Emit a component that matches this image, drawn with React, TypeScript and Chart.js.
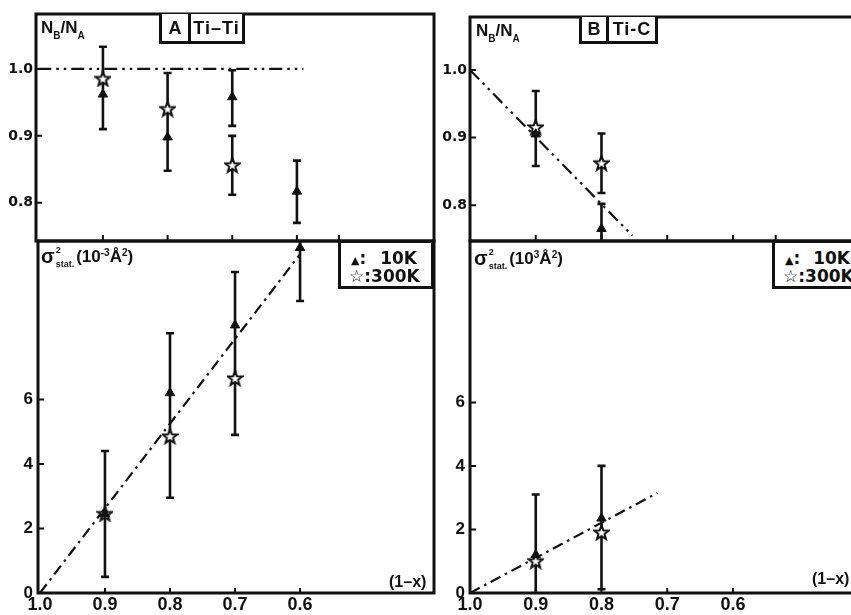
import React, { useEffect, useRef } from "react";
import { Chart, registerables } from "chart.js";

Chart.register(...registerables);

const INK = "#111111";
const FONT = "'Liberation Sans', Arial, sans-serif";
const FONT_WIDE = "'DejaVu Sans', sans-serif";

// ---- tick values ----
const X_LABEL_TICKS = [1.0, 0.9, 0.8, 0.7, 0.6];
const UPPER_X_MARKS = [0.9, 0.8, 0.7, 0.6, 0.535];
const RATIO_TICKS = [1.0, 0.9, 0.8];
const SIGMA_TICKS = [0, 2, 4, 6];

// ---- Panel A (Ti-Ti): N_B/N_A ----
const A_RATIO_X_10K = [0.9, 0.8, 0.7, 0.6];
const A_RATIO_10K = [0.962, 0.898, 0.958, 0.817];
const A_RATIO_LO_10K = [0.052, 0.05, 0.043, 0.047];
const A_RATIO_HI_10K = [0.023, 0.042, 0.04, 0.046];
const A_RATIO_X_300K = [0.9, 0.8, 0.7];
const A_RATIO_300K = [0.985, 0.94, 0.856];
const A_RATIO_LO_300K = [0, 0, 0.044];
const A_RATIO_HI_300K = [0.048, 0.054, 0.044];
const A_RATIO_FIT_X = [1.0, 0.59];
const A_RATIO_FIT = [1.0, 1.0];

// ---- Panel A (Ti-Ti): sigma^2 stat ----
const A_SIG_X_10K = [0.9, 0.8, 0.7, 0.6];
const A_SIG_10K = [2.45, 6.2, 8.3, 10.7];
const A_SIG_LO_10K = [0, 1.35, 1.65, 1.65];
const A_SIG_HI_10K = [0, 1.85, 1.65, 1.65];
const A_SIG_X_300K = [0.9, 0.8, 0.7];
const A_SIG_300K = [2.45, 4.85, 6.65];
const A_SIG_LO_300K = [1.95, 1.9, 1.75];
const A_SIG_HI_300K = [1.95, 0, 0];
const A_SIG_FIT_X = [1.0, 0.6];
const A_SIG_FIT = [0, 10.5];

// ---- Panel B (Ti-C): N_B/N_A ----
const B_RATIO_X_10K = [0.9, 0.8];
const B_RATIO_10K = [0.905, 0.765];
const B_RATIO_LO_10K = [0, 0.03];
const B_RATIO_HI_10K = [0, 0.037];
const B_RATIO_X_300K = [0.9, 0.8];
const B_RATIO_300K = [0.915, 0.862];
const B_RATIO_LO_300K = [0.057, 0.044];
const B_RATIO_HI_300K = [0.054, 0.044];
const B_RATIO_FIT_X = [1.0, 0.753];
const B_RATIO_FIT = [1.0, 0.755];

// ---- Panel B (Ti-C): sigma^2 stat ----
const B_SIG_X_10K = [0.9, 0.8];
const B_SIG_10K = [1.2, 2.35];
const B_SIG_LO_10K = [1.3, 0.45];
const B_SIG_HI_10K = [1.9, 1.65];
const B_SIG_X_300K = [0.9, 0.8];
const B_SIG_300K = [1.0, 1.9];
const B_SIG_LO_300K = [0, 1.78];
const B_SIG_HI_300K = [0, 0];
const B_SIG_FIT_X = [1.0, 0.715];
const B_SIG_FIT = [0, 3.15];

const pts = (xs: number[], ys: number[]) => xs.map((x, i) => ({ x, y: ys[i] }));

let starCache: HTMLCanvasElement | null = null;
function starImage() {
  if (starCache) return starCache;
  const c = document.createElement("canvas");
  c.width = 17;
  c.height = 17;
  const g = c.getContext("2d")!;
  const cx = 8.5, cy = 8.8, R = 7.6, r = 3.2;
  g.beginPath();
  for (let i = 0; i < 10; i++) {
    const ang = -Math.PI / 2 + (i * Math.PI) / 5;
    const rad = i % 2 === 0 ? R : r;
    const px = cx + Math.cos(ang) * rad;
    const py = cy + Math.sin(ang) * rad;
    if (i === 0) g.moveTo(px, py);
    else g.lineTo(px, py);
  }
  g.closePath();
  g.fillStyle = "#ffffff";
  g.fill();
  g.lineWidth = 2;
  g.strokeStyle = INK;
  g.stroke();
  starCache = c;
  return c;
}

function makeDatasets(
  x10: number[], y10: number[], lo10: number[], hi10: number[],
  x300: number[], y300: number[], lo300: number[], hi300: number[],
  fx: number[], fy: number[], dash: number[]
) {
  return [
    {
      type: "scatter",
      data: pts(x10, y10),
      errLo: lo10,
      errHi: hi10,
      pointStyle: "triangle",
      pointRadius: 5.4,
      backgroundColor: INK,
      borderColor: INK,
      borderWidth: 1,
      order: 0,
    },
    {
      type: "scatter",
      data: pts(x300, y300),
      errLo: lo300,
      errHi: hi300,
      pointStyle: starImage(),
      pointRadius: 8,
      order: 1,
    },
    {
      type: "line",
      data: pts(fx, fy),
      borderColor: INK,
      borderWidth: 2.2,
      borderDash: dash,
      pointRadius: 0,
      fill: false,
      showLine: true,
      order: 2,
    },
  ];
}

const framePlugin = (xTickLen: number, yTickLen: number) => ({
  id: "frameTicks",
  afterDraw(chart: any) {
    const { ctx, chartArea: a } = chart;
    const xs = chart.scales.x;
    const ys = chart.scales.y;
    ctx.save();
    ctx.strokeStyle = INK;
    ctx.lineWidth = 3;
    ctx.strokeRect(a.left, a.top, a.right - a.left, a.bottom - a.top);
    ctx.lineWidth = 2;
    ctx.beginPath();
    xs.ticks.forEach((t: any) => {
      const px = xs.getPixelForValue(t.value);
      if (px < a.left + 4 || px > a.right - 4) return;
      ctx.moveTo(px, a.bottom);
      ctx.lineTo(px, a.bottom - xTickLen);
    });
    ys.ticks.forEach((t: any) => {
      const py = ys.getPixelForValue(t.value);
      if (py < a.top + 4 || py > a.bottom - 4) return;
      ctx.moveTo(a.left, py);
      ctx.lineTo(a.left + yTickLen, py);
    });
    ctx.stroke();
    ctx.restore();
  },
});

const errorBarPlugin = {
  id: "errorBars",
  beforeDatasetsDraw(chart: any) {
    const { ctx, chartArea: a } = chart;
    const xs = chart.scales.x;
    const ys = chart.scales.y;
    ctx.save();
    ctx.beginPath();
    ctx.rect(a.left, a.top, a.right - a.left, a.bottom - a.top);
    ctx.clip();
    ctx.strokeStyle = INK;
    ctx.lineWidth = 2.6;
    chart.data.datasets.forEach((ds: any) => {
      if (!ds.errLo) return;
      ds.data.forEach((p: any, j: number) => {
        const px = xs.getPixelForValue(p.x);
        const py = ys.getPixelForValue(p.y);
        const parts = [ds.errHi[j], -ds.errLo[j]];
        parts.forEach((e: number) => {
          if (!e) return;
          const end = ys.getPixelForValue(p.y + e);
          ctx.beginPath();
          ctx.moveTo(px, py);
          ctx.lineTo(px, end);
          ctx.moveTo(px - 4, end);
          ctx.lineTo(px + 4, end);
          ctx.stroke();
        });
      });
    });
    ctx.restore();
  },
};

type Spec = {
  left: number; top: number; w: number; h: number;
  padding: any; yWidth: number; xHeight: number;
  xMin: number; xMax: number; yMin: number; yMax: number;
  xTicks: number[]; yTicks: number[]; xLabels: boolean;
  xFont: any; yFont: any; yPad: number; yDigits: number;
  datasets: any[];
};

function buildConfig(p: Spec): any {
  const zeroPad = (s: any) => {
    s.paddingLeft = 0;
    s.paddingRight = 0;
    s.paddingTop = 0;
    s.paddingBottom = 0;
  };
  return {
    type: "scatter",
    data: { datasets: p.datasets },
    options: {
      responsive: false,
      maintainAspectRatio: false,
      animation: false,
      devicePixelRatio: 1,
      layout: { padding: p.padding, autoPadding: false },
      plugins: { legend: { display: false }, tooltip: { enabled: false } },
      scales: {
        x: {
          type: "linear",
          reverse: true,
          min: p.xMin,
          max: p.xMax,
          grid: { display: false, drawTicks: false },
          border: { display: false },
          afterBuildTicks: (s: any) => {
            s.ticks = p.xTicks.map((v) => ({ value: v }));
          },
          afterFit: (s: any) => {
            s.height = p.xHeight;
            zeroPad(s);
          },
          ticks: {
            display: p.xLabels,
            autoSkip: false,
            maxRotation: 0,
            minRotation: 0,
            padding: 1,
            color: INK,
            font: p.xFont,
            callback: (v: any) => Number(v).toFixed(1),
          },
        },
        y: {
          type: "linear",
          min: p.yMin,
          max: p.yMax,
          grid: { display: false, drawTicks: false },
          border: { display: false },
          afterBuildTicks: (s: any) => {
            s.ticks = p.yTicks.map((v) => ({ value: v }));
          },
          afterFit: (s: any) => {
            s.width = p.yWidth;
            zeroPad(s);
          },
          ticks: {
            autoSkip: false,
            padding: p.yPad,
            color: INK,
            font: p.yFont,
            callback: (v: any) => Number(v).toFixed(p.yDigits),
          },
        },
      },
    },
    plugins: [framePlugin(p.xLabels ? 5 : 6, 6), errorBarPlugin],
  };
}

function Panel({ spec }: { spec: Spec }) {
  const ref = useRef<HTMLCanvasElement>(null);
  useEffect(() => {
    const chart = new Chart(ref.current as HTMLCanvasElement, buildConfig(spec));
    return () => chart.destroy();
  }, []);
  return (
    <canvas
      ref={ref}
      width={spec.w}
      height={spec.h}
      style={{ position: "absolute", left: spec.left, top: spec.top, width: spec.w, height: spec.h }}
    />
  );
}

const upperFont = { family: FONT_WIDE, weight: "bold", size: 14 };
const lowerXFont = { family: FONT, weight: "bold", size: 18 };
const lowerYFont = { family: FONT, weight: "bold", size: 17 };

const DASH_DDOT = [13, 5, 2.5, 5, 2.5, 5];
const DASH_DOT = [11, 5, 2.5, 5];

const SPECS: Spec[] = [
  {
    left: 0, top: 0, w: 436, h: 245,
    padding: { top: 14, right: 2, bottom: 4, left: 0 },
    yWidth: 36, xHeight: 0,
    xMin: 0.388, xMax: 1.0035, yMin: 0.743, yMax: 1.082,
    xTicks: UPPER_X_MARKS, yTicks: RATIO_TICKS, xLabels: false,
    xFont: upperFont, yFont: upperFont, yPad: 3, yDigits: 1,
    datasets: makeDatasets(A_RATIO_X_10K, A_RATIO_10K, A_RATIO_LO_10K, A_RATIO_HI_10K, A_RATIO_X_300K, A_RATIO_300K, A_RATIO_LO_300K, A_RATIO_HI_300K, A_RATIO_FIT_X, A_RATIO_FIT, DASH_DDOT),
  },
  {
    left: 0, top: 230, w: 436, h: 385,
    padding: { top: 11, right: 2, bottom: 0, left: 0 },
    yWidth: 38, xHeight: 22,
    xMin: 0.394, xMax: 1.003, yMin: 0, yMax: 10.91,
    xTicks: X_LABEL_TICKS, yTicks: SIGMA_TICKS, xLabels: true,
    xFont: lowerXFont, yFont: lowerYFont, yPad: 5, yDigits: 0,
    datasets: makeDatasets(A_SIG_X_10K, A_SIG_10K, A_SIG_LO_10K, A_SIG_HI_10K, A_SIG_X_300K, A_SIG_300K, A_SIG_LO_300K, A_SIG_HI_300K, A_SIG_FIT_X, A_SIG_FIT, DASH_DOT),
  },
  {
    left: 434, top: 0, w: 440, h: 245,
    padding: { top: 17, right: 0, bottom: 4, left: 0 },
    yWidth: 36, xHeight: 0,
    xMin: 0.3855, xMax: 1.0, yMin: 0.747, yMax: 1.0785,
    xTicks: UPPER_X_MARKS, yTicks: RATIO_TICKS, xLabels: false,
    xFont: upperFont, yFont: upperFont, yPad: 3, yDigits: 1,
    datasets: makeDatasets(B_RATIO_X_10K, B_RATIO_10K, B_RATIO_LO_10K, B_RATIO_HI_10K, B_RATIO_X_300K, B_RATIO_300K, B_RATIO_LO_300K, B_RATIO_HI_300K, B_RATIO_FIT_X, B_RATIO_FIT, DASH_DDOT),
  },
  {
    left: 432, top: 230, w: 442, h: 385,
    padding: { top: 11, right: 0, bottom: 0, left: 0 },
    yWidth: 38, xHeight: 22,
    xMin: 0.3855, xMax: 1.0, yMin: 0, yMax: 11.08,
    xTicks: X_LABEL_TICKS, yTicks: SIGMA_TICKS, xLabels: true,
    xFont: lowerXFont, yFont: lowerYFont, yPad: 5, yDigits: 0,
    datasets: makeDatasets(B_SIG_X_10K, B_SIG_10K, B_SIG_LO_10K, B_SIG_HI_10K, B_SIG_X_300K, B_SIG_300K, B_SIG_LO_300K, B_SIG_HI_300K, B_SIG_FIT_X, B_SIG_FIT, DASH_DOT),
  },
];

const txt: React.CSSProperties = {
  position: "absolute",
  fontFamily: FONT,
  fontWeight: 700,
  color: INK,
  whiteSpace: "nowrap",
  lineHeight: 1,
};

function RatioLabel({ left, top }: { left: number; top: number }) {
  return (
    <div style={{ ...txt, left, top, fontSize: 17 }}>
      N<span style={{ fontSize: 10, position: "relative", top: 6 }}>B</span>/N
      <span style={{ fontSize: 10, position: "relative", top: 6 }}>A</span>
    </div>
  );
}

function TitleBox({ left, top, w, cell, letter, name }: any) {
  return (
    <div
      style={{
        ...txt, left, top, width: w, height: 44 - top, boxSizing: "border-box",
        border: `3px solid ${INK}`, borderTopWidth: 0, display: "flex", alignItems: "center",
        fontSize: 18, background: "#fff",
      }}
    >
      <div style={{ width: cell, height: "100%", borderRight: `3px solid ${INK}`, display: "flex", alignItems: "center", justifyContent: "center" }}>
        {letter}
      </div>
      <div style={{ flex: 1, textAlign: "center", letterSpacing: 1 }}>{name}</div>
    </div>
  );
}

function SigmaLabel({ left, top, exp }: { left: number; top: number; exp: string }) {
  return (
    <div style={{ ...txt, left, top, display: "flex", alignItems: "flex-start" }}>
      <span style={{ fontSize: 20, marginTop: 0 }}>σ</span>
      <span style={{ display: "inline-flex", flexDirection: "column", fontSize: 9, marginLeft: 1 }}>
        <span>2</span>
        <span style={{ marginTop: 5 }}>stat.</span>
      </span>
      <span style={{ fontSize: 17, marginLeft: 2, marginTop: 2 }}>
        (10<span style={{ fontSize: 10, position: "relative", top: -6 }}>{exp}</span>Å
        <span style={{ fontSize: 10, position: "relative", top: -6 }}>2</span>)
      </span>
    </div>
  );
}

function LegendBox({ left, width, padRight }: { left: number; width: number; padRight: number }) {
  const row: React.CSSProperties = { display: "flex", justifyContent: "space-between", alignItems: "center", height: 18 };
  return (
    <div
      style={{
        ...txt, left, top: 240, width, height: 49, boxSizing: "border-box",
        border: `3px solid ${INK}`, paddingTop: 6, paddingLeft: 10, paddingRight: padRight,
        fontFamily: FONT_WIDE, fontSize: 17, background: "#fff",
      }}
    >
      <div style={row}>
        <span><span style={{ fontSize: 11 }}>▲</span>:</span>
        <span>10K</span>
      </div>
      <div style={row}>
        <span style={{ marginLeft: -2 }}><span style={{ fontSize: 17 }}>☆</span>:</span>
        <span>300K</span>
      </div>
    </div>
  );
}

export default function App() {
  return (
    <div
      style={{
        position: "fixed", left: 0, top: 0, width: 851, height: 615,
        overflow: "hidden", background: "#ffffff",
      }}
    >
      {SPECS.map((s, i) => (
        <Panel key={i} spec={s} />
      ))}
      <RatioLabel left={41} top={19} />
      <RatioLabel left={476} top={22} />
      <TitleBox left={159} top={14} w={86} cell={26} letter="A" name="Ti–Ti" />
      <TitleBox left={579} top={17} w={79} cell={24} letter="B" name="Ti-C" />
      <SigmaLabel left={41} top={246} exp="-3" />
      <SigmaLabel left={474} top={248} exp="3" />
      <LegendBox left={338} width={96} padRight={14} />
      <LegendBox left={772} width={100} padRight={19} />
      <div style={{ ...txt, left: 389, top: 574, fontSize: 16 }}>(1–x)</div>
      <div style={{ ...txt, left: 812, top: 571, fontSize: 16 }}>(1–x)</div>
    </div>
  );
}
